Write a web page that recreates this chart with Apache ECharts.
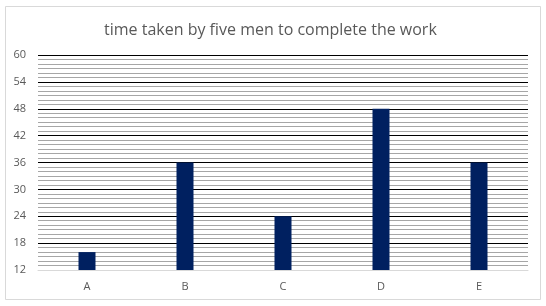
<!DOCTYPE html>
<html><head><meta charset="utf-8">
<script src="https://cdn.jsdelivr.net/npm/echarts@6/dist/echarts.min.js"></script>
<style>html,body{margin:0;padding:0;background:#fff}#c{width:546px;height:306px}</style>
</head><body><div id="c"></div>
<script>
const categories = ['A','B','C','D','E'];
const values = [16, 36, 24, 48, 36];
const titleText = 'time taken by five men to complete the work';
const chart = echarts.init(document.getElementById('c'), null, {renderer:'canvas'});
chart.setOption({
  animation:false,
  backgroundColor:'#fff',
  graphic:[{type:'rect',shape:{x:5.5,y:6.5,width:535,height:293},style:{fill:'none',stroke:'#d9d9d9',lineWidth:1},silent:true}],
  title:{text:titleText,left:99,top:17,textStyle:{fontFamily:'Open Sans',fontSize:16,fontWeight:'normal',color:'#595959'}},
  grid:{left:38,right:18,top:55,bottom:36},
  xAxis:{type:'category',data:categories,
    axisLine:{show:true,lineStyle:{color:'#d9d9d9'}},axisTick:{show:false},
    axisLabel:{color:'#595959',fontFamily:'Open Sans',fontSize:11,margin:11}},
  yAxis:{type:'value',min:12,max:60,interval:6,
    axisLine:{show:false},axisTick:{show:false},
    axisLabel:{color:'#595959',fontFamily:'Open Sans',fontSize:11,margin:12},
    splitLine:{show:true,lineStyle:{color:['#d9d9d9','#000','#000','#000','#000','#000','#000','#000','#000'],width:1.2}},
    minorTick:{show:false,splitNumber:6},
    minorSplitLine:{show:true,lineStyle:{color:'#a6a6a6',width:1}}},
  series:[{type:'bar',data:values,barWidth:17,itemStyle:{color:'#002060'},z:5}]
});
</script></body></html>
